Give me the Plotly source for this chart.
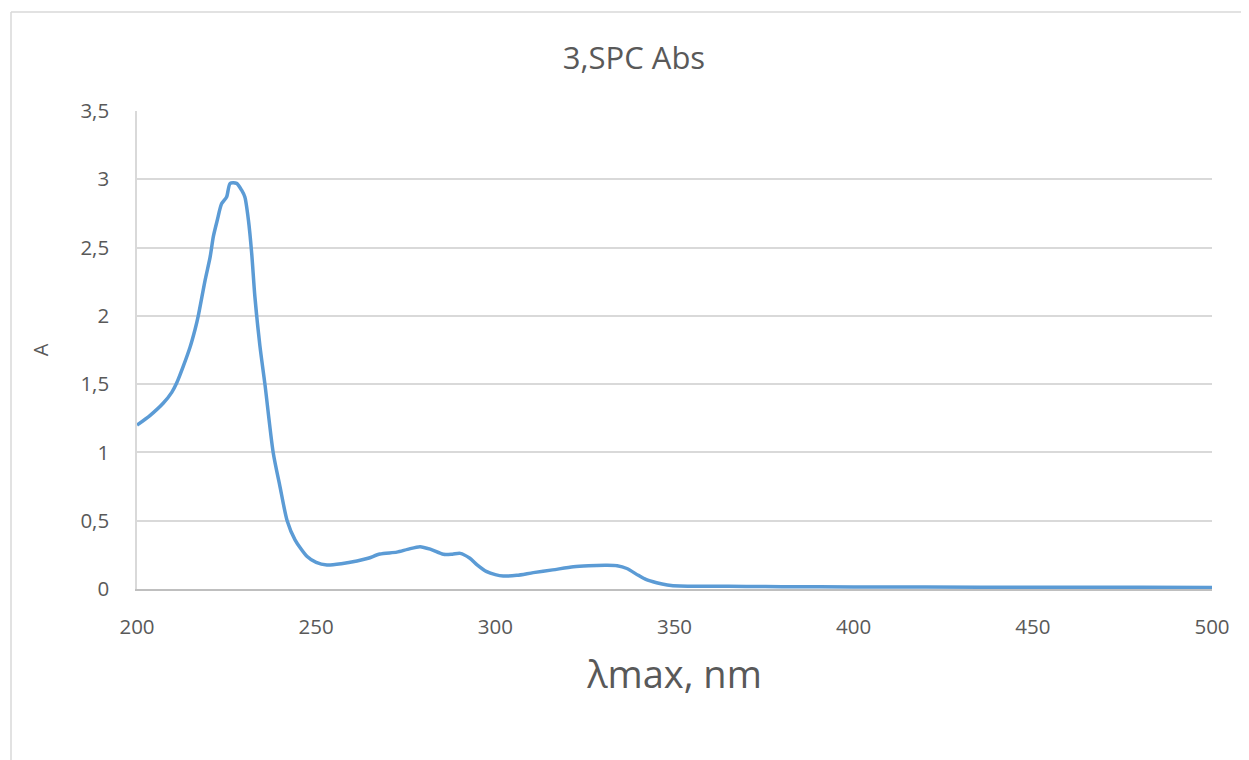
import plotly.graph_objects as go

wavelength = [200, 203.6, 207.3, 209.7, 211.1, 212.9, 214.8, 216.2, 217.1, 219, 220.4, 221.3, 222.4,
              223.6, 225, 226, 227.8, 229.2, 230.1, 231.1, 232, 232.9, 234.3, 235.7, 238.0, 239.9,
              241.9, 244.1, 247.4, 250, 253, 257, 261.4, 264.5, 267.8, 272.5, 275.5, 279, 282, 285.5,
              288, 290.2, 292.9, 295, 297.6, 300, 302.2, 306, 310.6, 316, 321.8, 326, 331.1, 334,
              336.7, 339.9, 342, 345, 348, 351.5, 360, 370, 380, 400, 420, 450, 480, 500]
absorbance = [1.20, 1.27, 1.36, 1.44, 1.51, 1.63, 1.77, 1.90, 2.00, 2.26, 2.43, 2.58, 2.70,
              2.82, 2.87, 2.97, 2.97, 2.92, 2.87, 2.70, 2.46, 2.14, 1.78, 1.50, 1.00, 0.75,
              0.50, 0.36, 0.24, 0.195, 0.176, 0.185, 0.205, 0.225, 0.256, 0.27, 0.29, 0.31, 0.29, 0.254,
              0.255, 0.261, 0.225, 0.175, 0.127, 0.105, 0.095, 0.10, 0.12, 0.14, 0.163, 0.170, 0.173, 0.170,
              0.15, 0.10, 0.07, 0.046, 0.03, 0.022, 0.02, 0.019, 0.017, 0.015, 0.014, 0.013, 0.012, 0.011]

x_ticks = [200, 250, 300, 350, 400, 450, 500]
y_ticks = [0, 0.5, 1, 1.5, 2, 2.5, 3, 3.5]

title_text = "3,SPC Abs"
x_title = "λmax, nm"
y_title = "A"

FONT = "Open Sans, sans-serif"
GRAY = "#595959"

fig = go.Figure()
fig.add_trace(go.Scatter(
    x=wavelength, y=absorbance, mode="lines",
    line=dict(color="#5B9BD5", width=3.5, shape="spline", smoothing=0.7),
    showlegend=False, hoverinfo="x+y"))

# page body has an 8px margin, so the figure starts at (8, 8)
OFF = 8
W, H = 1249 - OFF, 760 - OFF
L, T = 137 - OFF, 111 - OFF
pw, ph = 1075, 478
R, B = W - L - pw, H - T - ph

fig.update_layout(
    width=W, height=H,
    margin=dict(l=L, r=R, t=T, b=B, autoexpand=False),
    paper_bgcolor="white", plot_bgcolor="white",
    separators=", ",
    font=dict(family=FONT, color=GRAY, size=20),
    title=dict(text=title_text, x=(634 - 137) / pw, xref="paper", xanchor="center",
               y=1 - (58 - OFF) / H, yanchor="middle", yref="container",
               font=dict(size=31, color=GRAY, family=FONT)),
    xaxis=dict(range=[200, 500], tickvals=x_ticks, showgrid=False,
               showline=True, linecolor="#BFBFBF", linewidth=1.5,
               ticks="outside", ticklen=19, tickcolor="rgba(0,0,0,0)",
               tickfont=dict(size=20.5, color=GRAY),
               title=dict(text=x_title, font=dict(size=38, color=GRAY), standoff=22),
               zeroline=False, fixedrange=True),
    yaxis=dict(range=[0, 3.5], tickvals=y_ticks, showgrid=True, gridcolor="#D9D9D9", gridwidth=1.5,
               showline=True, linecolor="#D9D9D9", linewidth=1.5,
               ticks="outside", ticklen=22, tickcolor="rgba(0,0,0,0)",
               tickfont=dict(size=20.5, color=GRAY),
               title=dict(text=y_title, font=dict(size=20, color=GRAY), standoff=26),
               zeroline=False, fixedrange=True),
)

# chart-area border (Excel style), drawn in paper coords extending beyond the plot area
bx0 = (11 - 137) / pw
by1 = 1 + (111 - 12) / ph
fig.add_shape(type="line", xref="paper", yref="paper", x0=bx0, x1=(1260 - 137) / pw, y0=by1, y1=by1,
              line=dict(color="#D9D9D9", width=1.5))
fig.add_shape(type="line", xref="paper", yref="paper", x0=bx0, x1=bx0, y0=by1, y1=-(B + 20) / ph,
              line=dict(color="#D9D9D9", width=1.5))

fig.write_html("out.html")
